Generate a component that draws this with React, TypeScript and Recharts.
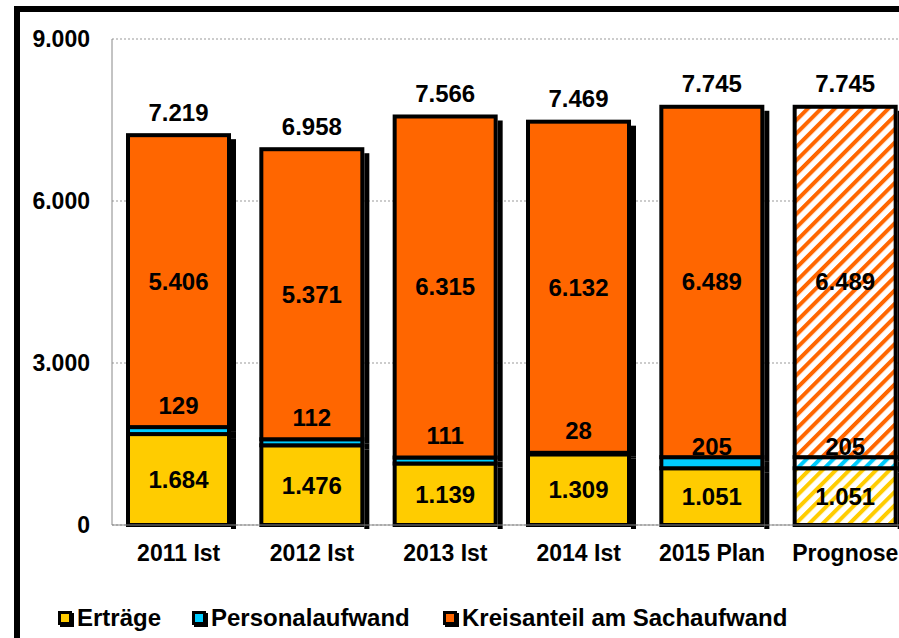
import { BarChart, Bar, XAxis, YAxis, CartesianGrid, LabelList } from 'recharts'

const categories = ['2011 Ist', '2012 Ist', '2013 Ist', '2014 Ist', '2015 Plan', 'Prognose']
const ertraege = [1684, 1476, 1139, 1309, 1051, 1051]
const personal = [129, 112, 111, 28, 205, 205]
const kreisanteil = [5406, 5371, 6315, 6132, 6489, 6489]
const totals = [7219, 6958, 7566, 7469, 7745, 7745]
const yTicks = [0, 3000, 6000, 9000]

const FONT = '"Liberation Sans", Arial, sans-serif'
const YELLOW = '#FFCC00'
const CYAN = '#00CCFF'
const ORANGE = '#FF6600'

const series = [
  { key: 'ertraege', name: 'Erträge', color: YELLOW, hatch: 'hatchYellow' },
  { key: 'personal', name: 'Personalaufwand', color: CYAN, hatch: 'hatchCyan' },
  { key: 'kreisanteil', name: 'Kreisanteil am Sachaufwand', color: ORANGE, hatch: 'hatchOrange' },
]
const legendLeft = [58, 192, 443]

const data = categories.map((name, i) => ({
  name,
  ertraege: ertraege[i],
  personal: personal[i],
  kreisanteil: kreisanteil[i],
}))

const fmt = (n: number) => String(n).replace(/\B(?=(\d{3})+(?!\d))/g, '.')

const makeShape = (color: string, hatch: string) => (props: any) => {
  const { x, y, width, height, index } = props
  const fill = categories[index] === 'Prognose' ? `url(#${hatch})` : color
  return (
    <g>
      <rect x={x + width + 2} y={y + 4} width={5} height={Math.max(height, 0)} fill="#000" />
      <rect x={x} y={y} width={width} height={Math.max(height, 0)} fill={fill} stroke="#000" strokeWidth={4} />
    </g>
  )
}

const labelStyle = { fontSize: 24, fontWeight: 'bold' as const, fill: '#000', fontFamily: FONT }

const centerLabel = (values: number[]) => (props: any) => {
  const { x, y, width, height, index } = props
  return (
    <text x={x + width / 2} y={y + height / 2} textAnchor="middle" dominantBaseline="central" {...labelStyle}>
      {fmt(values[index])}
    </text>
  )
}

const personalLabel = (props: any) => {
  const { x, y, width, index } = props
  const lift = index >= 4 ? 11 : 22
  return (
    <text x={x + width / 2} y={y - lift} textAnchor="middle" dominantBaseline="central" {...labelStyle}>
      {fmt(personal[index])}
    </text>
  )
}

const totalLabel = (props: any) => {
  const { x, y, width, index } = props
  return (
    <text x={x + width / 2} y={y - 23} textAnchor="middle" dominantBaseline="central" {...labelStyle}>
      {fmt(totals[index])}
    </text>
  )
}

function Hatch({ id, color }: { id: string; color: string }) {
  return (
    <pattern id={id} patternUnits="userSpaceOnUse" width={9.5} height={9.5} patternTransform="rotate(45)">
      <rect width={9.5} height={9.5} fill="#fff" />
      <rect width={4} height={9.5} fill={color} />
    </pattern>
  )
}

export default function App() {
  return (
    <div style={{ position: 'fixed', left: 0, top: 0, width: 899, height: 638, overflow: 'hidden', background: '#fff' }}>
      <div
        style={{
          position: 'absolute',
          left: 14,
          top: 6,
          width: 1000,
          height: 1000,
          borderLeft: '6px solid #000',
          borderTop: '6px solid #000',
        }}
      />
      <div style={{ position: 'absolute', left: 0, top: 0 }}>
        <BarChart
          width={920}
          height={638}
          data={data}
          margin={{ top: 39, right: 8, left: 0, bottom: 0 }}
          barCategoryGap={16}
        >
          <defs>
            <Hatch id="hatchYellow" color={YELLOW} />
            <Hatch id="hatchCyan" color={CYAN} />
            <Hatch id="hatchOrange" color={ORANGE} />
          </defs>
          <CartesianGrid vertical={false} stroke="#999" strokeDasharray="2 2" />
          <XAxis
            dataKey="name"
            height={113}
            interval={0}
            tickLine={false}
            tickSize={0}
            tickMargin={20}
            axisLine={{ stroke: '#888' }}
            tick={{ fontSize: 23, fontWeight: 'bold', fill: '#000', fontFamily: FONT }}
          />
          <YAxis
            width={112}
            domain={[0, 9000]}
            ticks={yTicks}
            tickFormatter={fmt}
            tickLine={false}
            tickSize={0}
            tickMargin={22}
            axisLine={{ stroke: '#888' }}
            tick={{ fontSize: 23, fontWeight: 'bold', fill: '#000', fontFamily: FONT }}
          />
          {series.map((s) => (
            <Bar
              key={s.key}
              dataKey={s.key}
              name={s.name}
              stackId="a"
              fill={s.color}
              isAnimationActive={false}
              shape={makeShape(s.color, s.hatch)}
            >
              {s.key === 'ertraege' && <LabelList dataKey={s.key} content={centerLabel(ertraege)} />}
              {s.key === 'personal' && <LabelList dataKey={s.key} content={personalLabel} />}
              {s.key === 'kreisanteil' && <LabelList dataKey={s.key} content={centerLabel(kreisanteil)} />}
              {s.key === 'kreisanteil' && <LabelList dataKey={s.key} content={totalLabel} />}
            </Bar>
          ))}
        </BarChart>
      </div>
      {series.map((s, i) => (
        <div
          key={s.key}
          style={{
            position: 'absolute',
            left: legendLeft[i],
            top: 604,
            display: 'flex',
            alignItems: 'center',
            fontFamily: FONT,
            fontWeight: 'bold',
            fontSize: 24,
            color: '#000',
            whiteSpace: 'nowrap',
          }}
        >
          <span
            style={{
              display: 'inline-block',
              width: 8,
              height: 8,
              background: s.color,
              border: '3px solid #000',
              boxShadow: '2px 2px 0 #000',
              marginRight: 5,
            }}
          />
          <span>{s.name}</span>
        </div>
      ))}
    </div>
  )
}
